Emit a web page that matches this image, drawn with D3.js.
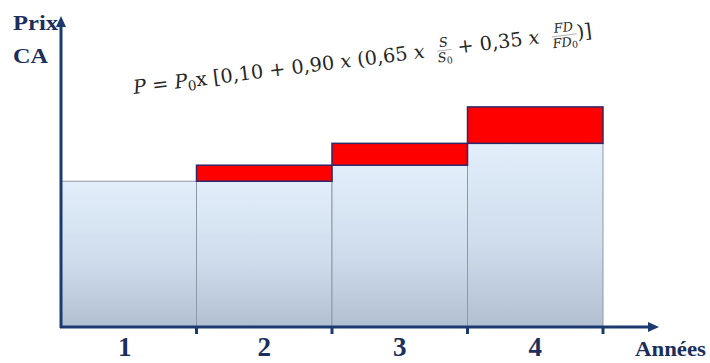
<!DOCTYPE html>
<html>
<head>
<meta charset="utf-8">
<script src="https://cdn.jsdelivr.net/npm/d3@7"></script>
<style>
  body { margin: 0; background: #fff; }
  svg { display: block; }
</style>
</head>
<body>
<div id="chart"></div>
<script>
// data (index, year 1 = 100)
const years = ["1", "2", "3", "4"];
const base = [100, 100, 111, 126];   // blue part = previous price
const hausse = [0, 11, 15, 25];      // red part = revision
const yMax = 212;

const width = 710, height = 363;
const navy = "#1d3a70", textNavy = "#1b2e5d";
const serifBold = "'Liberation Serif', 'Times New Roman', Times, serif";

let svg = d3.select("#chart")
    .append("svg")
    .attr("width", width)
    .attr("height", height);

let x = d3.scaleBand()
    .domain(years)
    .range([61, 603])
    .padding(0);

let y = d3.scaleLinear()
    .domain([0, yMax])
    .range([327, 18]);

let defs = svg.append("defs");
let grad = defs.append("linearGradient")
    .attr("id", "blueGrad")
    .attr("x1", 0).attr("y1", 0).attr("x2", 0).attr("y2", 1);
grad.append("stop").attr("offset", "0%").attr("stop-color", "#e2eefa");
grad.append("stop").attr("offset", "55%").attr("stop-color", "#cedcec");
grad.append("stop").attr("offset", "100%").attr("stop-color", "#b1bfd1");

let data = years.map((d, i) => ({year: d, base: base[i], hausse: hausse[i]}));

// blue bars
svg.selectAll("rect.base").data(data)
    .enter()
    .append("rect")
    .attr("class", "base")
    .attr("x", d => x(d.year))
    .attr("y", d => y(d.base))
    .attr("width", x.bandwidth())
    .attr("height", d => y(0) - y(d.base))
    .attr("fill", "url(#blueGrad)")
    .attr("stroke", "#8f98a6")
    .attr("stroke-width", 1);

// red increments
svg.selectAll("rect.hausse").data(data.filter(d => d.hausse > 0))
    .enter()
    .append("rect")
    .attr("class", "hausse")
    .attr("x", d => x(d.year))
    .attr("y", d => y(d.base + d.hausse))
    .attr("width", x.bandwidth())
    .attr("height", d => y(d.base) - y(d.base + d.hausse))
    .attr("fill", "#ff0000")
    .attr("stroke", "#2e2a6a")
    .attr("stroke-width", 1.5);

// axes with arrows
svg.append("line")
    .attr("x1", x.range()[0]).attr("y1", y(0) + 1)
    .attr("x2", x.range()[0]).attr("y2", y(yMax) + 8)
    .attr("stroke", navy).attr("stroke-width", 3);
svg.append("path")
    .attr("d", `M${x.range()[0]},${y(yMax) - 2} l-5,11 l10,0 z`)
    .attr("fill", navy);

svg.append("line")
    .attr("x1", x.range()[0] - 1).attr("y1", y(0))
    .attr("x2", 650).attr("y2", y(0))
    .attr("stroke", navy).attr("stroke-width", 3);
svg.append("path")
    .attr("d", `M659,${y(0)} l-11,-5 l0,10 z`)
    .attr("fill", navy);

// tick marks at band edges
svg.selectAll("line.tick").data(years)
    .enter()
    .append("line")
    .attr("class", "tick")
    .attr("x1", d => x(d) + x.bandwidth()).attr("x2", d => x(d) + x.bandwidth())
    .attr("y1", y(0)).attr("y2", y(0) + 7)
    .attr("stroke", navy).attr("stroke-width", 3);

// year labels
let xAxis = svg.append("g")
    .attr("transform", `translate(0, ${y(0)})`)
    .call(d3.axisBottom(x).tickSize(0).tickPadding(10));
xAxis.select(".domain").remove();
xAxis.selectAll("text")
    .attr("dy", "0.71em")
    .style("font-family", serifBold)
    .style("font-weight", "bold")
    .style("font-size", "27px")
    .attr("fill", textNavy);
xAxis.selectAll(".tick").attr("transform", (d, i) => `translate(${x(d) + x.bandwidth() / 2 + (i === 0 ? -4 : 0)},0)`);

const labelStyle = t => t
    .style("font-family", serifBold)
    .style("font-weight", "bold")
    .style("font-size", "22px")
    .attr("fill", textNavy)
    .attr("lengthAdjust", "spacingAndGlyphs");

svg.append("text").attr("x", 13).attr("y", 30).attr("textLength", 45).text("Prix").call(labelStyle);
svg.append("text").attr("x", 13).attr("y", 63).attr("textLength", 35).text("CA").call(labelStyle);
svg.append("text").attr("x", 635).attr("y", 356).attr("textLength", 71).text("Années").call(labelStyle);

// formula, slightly tilted
let formula = svg.append("g");

const fontF = "'DejaVu Serif', 'Liberation Serif', serif";
const mainSize = 13.5, smallSize = 9;
const ink = "#262626";
let cursor = 0;

function piece(str, opts = {}) {
    let t = formula.append("text")
        .attr("x", cursor)
        .attr("y", opts.dy || 0)
        .style("font-family", fontF)
        .style("font-size", (opts.size || mainSize) + "px")
        .style("font-style", opts.italic ? "italic" : "normal")
        .attr("fill", ink)
        .attr("xml:space", "preserve")
        .text(str);
    cursor += t.node().getComputedTextLength();
    return t;
}

function fracText(str, sub, yPos) {
    let t = formula.append("text")
        .attr("y", yPos)
        .style("font-family", fontF).style("font-size", smallSize + "px")
        .attr("fill", ink);
    t.append("tspan").style("font-style", "italic").text(str);
    if (sub) t.append("tspan").attr("dy", 1.5).style("font-size", "6.5px").text(sub);
    return t;
}

function fraction(num, den) {
    let start = cursor;
    let n = fracText(num, null, -6);
    let d = fracText(den, "0", 4.5);
    let wn = n.node().getComputedTextLength(), wd = d.node().getComputedTextLength();
    let w = Math.max(wn, wd);
    n.attr("x", start + (w - wn) / 2);
    d.attr("x", start + (w - wd) / 2);
    formula.append("line")
        .attr("x1", start).attr("x2", start + w)
        .attr("y1", -3.5).attr("y2", -3.5)
        .attr("stroke", "#999").attr("stroke-width", 0.5);
    cursor = start + w;
}

piece("P", {italic: true});
piece(" = ");
piece("P", {italic: true});
piece("0", {size: 9.5, dy: 2.5});
piece("x [0,10 + 0,90 ");
piece("x", {italic: true});
piece(" (0,65 ");
piece("x", {italic: true});
piece("  ");
fraction("S", "S");
piece(" + 0,35 ");
piece("x", {italic: true});
piece("  ");
fraction("FD", "FD");
piece(")]");

// fit the formula to its measured length in the picture
let scale = 462 / cursor;
formula.attr("transform", `translate(134,94) rotate(-7.1) scale(${scale})`);
</script>
</body>
</html>
